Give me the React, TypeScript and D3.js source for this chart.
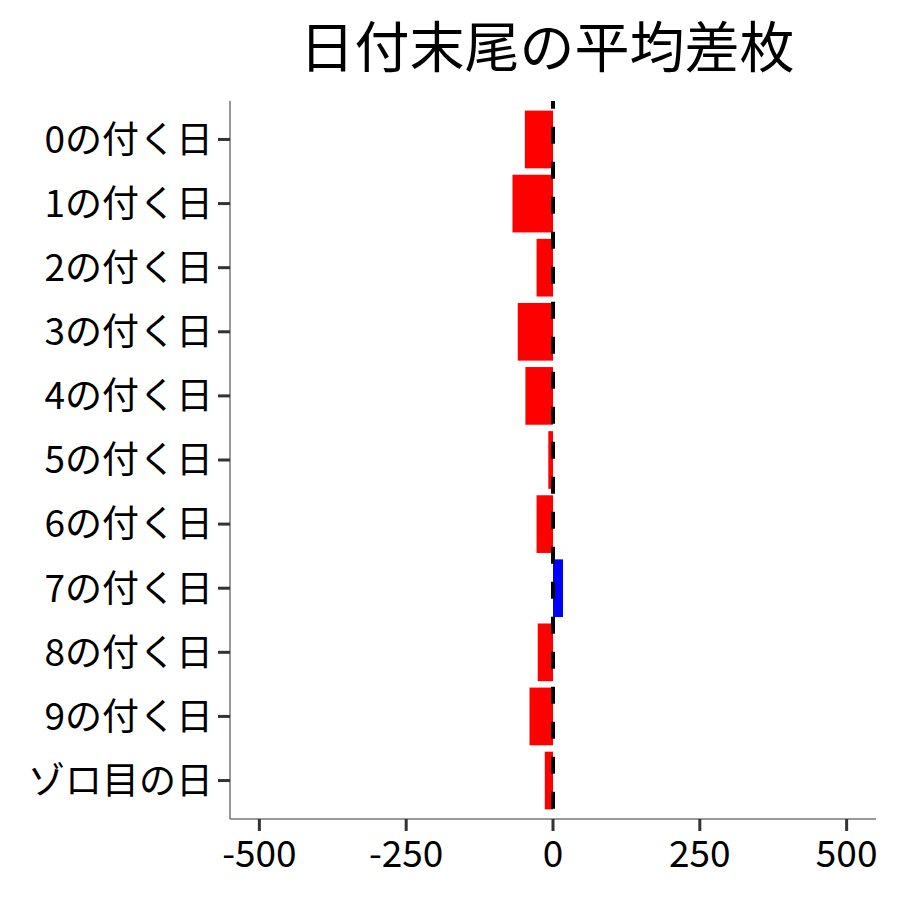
import React from "react";
import * as d3 from "d3";

const categories = ["0の付く日", "1の付く日", "2の付く日", "3の付く日", "4の付く日", "5の付く日", "6の付く日", "7の付く日", "8の付く日", "9の付く日", "ゾロ目の日"];
const values = [-48, -69, -28, -60, -47, -8, -28, 17, -26, -40, -14];
const xTicks = [-500, -250, 0, 250, 500];
const title = "日付末尾の平均差枚";

const W = 900, H = 900;
const panel = { left: 230, right: 876, top: 101, bottom: 819 };
const FONT = "'Noto Sans CJK JP', 'Noto Sans', sans-serif";

export default function App() {
  const x = d3.scaleLinear().domain([-550, 550]).range([panel.left, panel.right]);
  const y = d3.scaleLinear().domain([0.4, categories.length + 0.6]).range([panel.top, panel.bottom]);
  const bw = (y(1) - y(0)) * 0.9;
  return (
    <svg width={W} height={H} style={{ position: "absolute", left: 0, top: 0, background: "#fff" }}>
      <text x={(panel.left + panel.right) / 2 - 6} y={67} textAnchor="middle" fontFamily={FONT} fontSize={55} fill="#000">{title}</text>
      {categories.map((c, i) => {
        const v = values[i];
        const yc = y(i + 1);
        return (
          <rect key={c} x={x(Math.min(0, v))} y={yc - bw / 2} width={Math.abs(x(v) - x(0))} height={bw} fill={v < 0 ? "#ff0000" : "#0000ff"} />
        );
      })}
      <line x1={x(0)} x2={x(0)} y1={panel.top} y2={panel.bottom} stroke="#000" strokeWidth={4} strokeDasharray="17 18" strokeDashoffset={9.3} />
      <line x1={panel.left} x2={panel.left} y1={panel.top} y2={panel.bottom} stroke="#777" strokeWidth={1.5} />
      <line x1={panel.left} x2={panel.right} y1={panel.bottom} y2={panel.bottom} stroke="#777" strokeWidth={1.5} />
      {categories.map((c, i) => {
        const yc = y(i + 1);
        return (
          <g key={"t" + c}>
            <line x1={panel.left - 12} x2={panel.left} y1={yc} y2={yc} stroke="#333" strokeWidth={3} />
            <text x={panel.left - 17} y={yc} dy="0.36em" textAnchor="end" fontFamily={FONT} fontSize={37} fill="#000">{c}</text>
          </g>
        );
      })}
      {xTicks.map((t) => (
        <g key={"x" + t}>
          <line x1={x(t)} x2={x(t)} y1={panel.bottom} y2={panel.bottom + 12} stroke="#333" strokeWidth={3} />
          <text x={x(t)} y={panel.bottom + 48} textAnchor="middle" fontFamily={FONT} fontSize={37} fill="#000">{t}</text>
        </g>
      ))}
    </svg>
  );
}
